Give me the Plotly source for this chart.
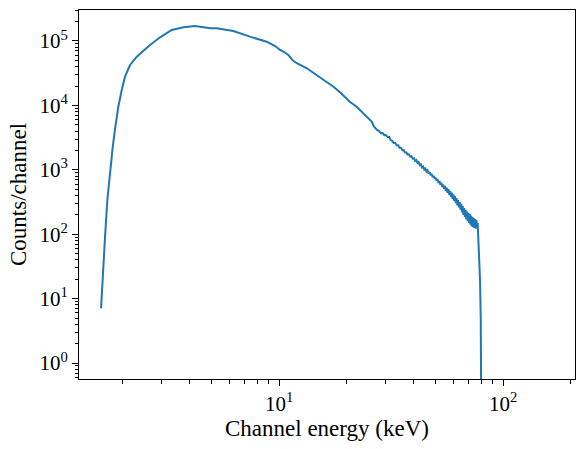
import plotly.graph_objects as go

energy_kev = [
    1.605, 1.643, 1.672, 1.712, 1.76, 1.81, 1.859, 1.917, 1.985, 2.053, 2.162, 2.316,
    2.655, 2.943, 3.32, 3.74, 4.22, 4.44, 4.92, 5.27, 6.25, 7.42, 8.81, 9.6, 10.1,
    10.5, 11.0, 11.5, 12.0, 13.3, 14.7, 17.5, 18.7, 20.7, 22.2, 24.0, 25.9, 26.5, 27.3,
    28, 28.5, 29, 29.5, 30, 30.5, 31, 31.5, 32, 32.5, 33, 33.5, 34, 34.5, 35, 35.5,
    36, 36.5, 37, 37.5, 38, 38.5, 39, 39.5, 40, 40.5, 41, 41.5, 42, 42.5, 43, 43.5,
    44, 44.5, 45, 45.5, 46, 46.5, 47, 47.5, 48, 48.5, 49, 49.5, 50,
    50.5, 51, 51.5, 52, 52.5, 53, 53.5, 54, 54.5, 55, 55.5, 56, 56.5, 57, 57.5, 58, 58.5,
    59, 59.5, 60, 60.5, 61, 61.5, 62, 62.5, 63, 63.5, 64, 64.5, 65, 65.5, 66, 66.5, 67,
    67.5, 68, 68.5, 69, 69.5, 70, 70.5, 71, 71.5, 72, 72.5, 73, 73.5, 74, 74.5, 75, 75.5,
    76, 76.5, 77, 77.6, 78.3, 78.9, 79.5, 80.0, 80.2,
]
counts = [
    7.06, 24.7, 91, 340, 993, 2285, 4670, 9550, 17300, 27900, 42400, 57000,
    86700, 114000, 148000, 163000, 171000, 167000, 157000, 157000, 143000, 116700, 97500, 83600, 72400,
    68000, 60600, 50000, 45100, 37700, 29700, 19500, 16000, 11400, 9550, 7300, 5600, 4700, 4200,
    3980, 3700, 3720, 3450, 3470, 3230, 3260, 2890, 2810, 2600, 2600, 2400, 2400, 2200, 2200, 2020,
    2030, 1860, 1860, 1720, 1740, 1600, 1620, 1490, 1510, 1375, 1415, 1275, 1315, 1180, 1210, 1085,
    1120, 1008, 1047, 940, 980, 880, 920, 825, 862, 770, 805, 720, 755,
    680, 715, 625, 670, 585, 630, 545, 595, 505, 560, 470, 530, 440, 500, 410, 470, 380,
    440, 355, 415, 330, 390, 305, 365, 280, 340, 260, 315, 240, 295, 220, 275, 200, 255,
    185, 240, 170, 225, 160, 215, 150, 205, 140, 195, 132, 185, 128, 178, 125, 172, 122,
    165, 135, 150, 91, 45, 19.5, 4.7, 0.6, 0.01,
]

x_tick_vals = [10, 100]
x_tick_text = ["10<sup>1</sup>", "10<sup>2</sup>"]
y_tick_vals = [1, 10, 100, 1000, 10000, 100000]
y_tick_text = ["10<sup>0</sup>", "10<sup>1</sup>", "10<sup>2</sup>", "10<sup>3</sup>", "10<sup>4</sup>", "10<sup>5</sup>"]
x_minor_vals = [2, 3, 4, 5, 6, 7, 8, 9, 20, 30, 40, 50, 60, 70, 80, 90, 200]
y_minor_vals = [m * 10 ** e for e in range(-1, 6) for m in range(2, 10)]

font_family = "Liberation Serif, DejaVu Serif, serif"

fig = go.Figure(
    go.Scatter(
        x=energy_kev, y=counts, mode="lines",
        line=dict(color="#1f77b4", width=2),
        showlegend=False,
    )
)

axis_common = dict(
    type="log",
    showgrid=False,
    zeroline=False,
    showline=True,
    linecolor="black",
    linewidth=1,
    mirror=True,
    ticks="outside",
    ticklen=6,
    tickwidth=1,
    tickcolor="black",
    tickfont=dict(family=font_family, size=21, color="black"),
    title_font=dict(family=font_family, size=23, color="black"),
    tickmode="array",
)

fig.update_xaxes(
    **axis_common,
    range=[0.107, 2.321],
    tickvals=x_tick_vals, ticktext=x_tick_text,
    minor=dict(tickmode="array", tickvals=x_minor_vals, ticks="outside", ticklen=3.5, tickcolor="black", tickwidth=0.8),
    title_text="Channel energy (keV)",
    title_standoff=2,
)
fig.update_yaxes(
    **axis_common,
    range=[-0.248, 5.481],
    tickvals=y_tick_vals, ticktext=y_tick_text,
    minor=dict(tickmode="array", tickvals=y_minor_vals, ticks="outside", ticklen=3.5, tickcolor="black", tickwidth=0.8),
    title_text="Counts/channel",
    title_standoff=6,
)

fig.update_layout(
    width=584, height=449,
    margin=dict(l=79, r=9, t=10, b=70),
    paper_bgcolor="white",
    plot_bgcolor="white",
)

fig.write_html("out.html")
